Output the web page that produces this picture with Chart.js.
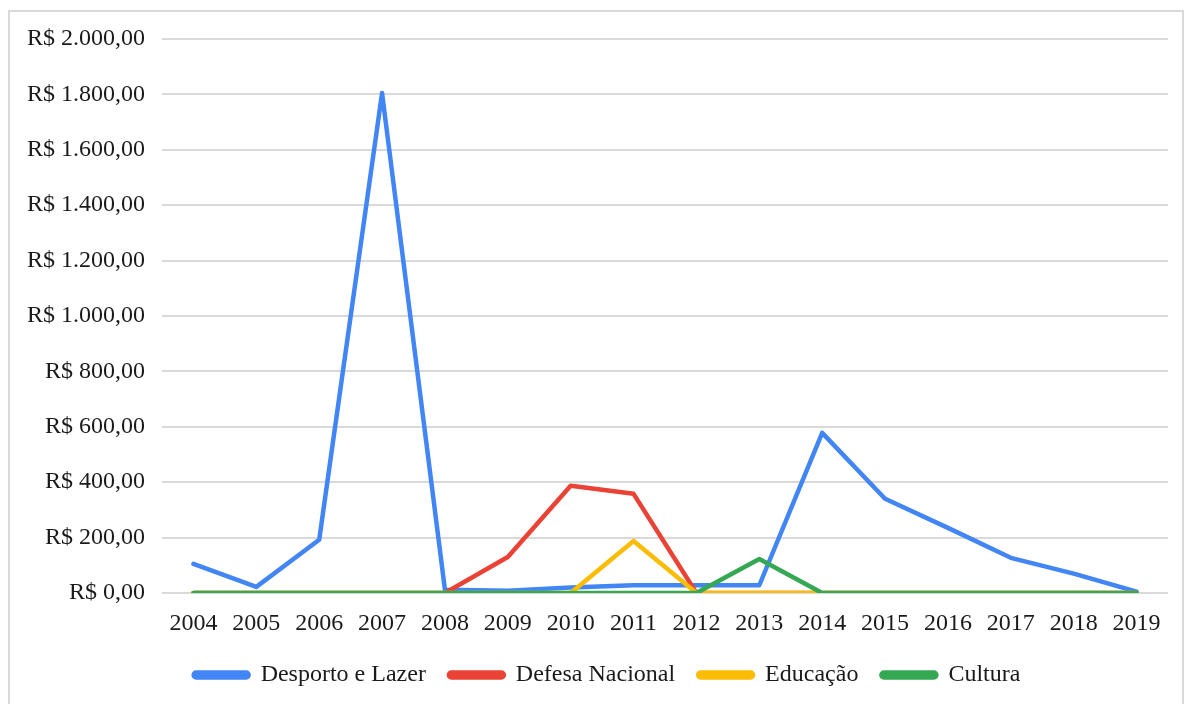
<!DOCTYPE html>
<html>
<head>
<meta charset="utf-8">
<script src="https://cdn.jsdelivr.net/npm/chart.js@4/dist/chart.umd.min.js"></script>
<style>
  html, body { margin: 0; padding: 0; background: #ffffff; }
  #wrap { position: relative; width: 1192px; height: 704px; }
</style>
</head>
<body>
<div id="wrap"><canvas id="chart" width="1192" height="704"></canvas></div>
<script>
// Annual spending by function, 2004–2019 (R$)
const years = ['2004','2005','2006','2007','2008','2009','2010','2011','2012','2013','2014','2015','2016','2017','2018','2019'];
const desportoLazer  = [105, 22, 192, 1805, 12, 8, 20, 28, 28, 28, 578, 340, 235, 127, 70, 5];
const defesaNacional = [0, 0, 0, 0, 0, 130, 387, 358, 0, 0, 0, 0, 0, 0, 0, 0];
const educacao       = [0, 0, 0, 0, 0, 0, 0, 188, 0, 0, 0, 0, 0, 0, 0, 0];
const cultura        = [0, 0, 0, 0, 0, 0, 0, 0, 0, 123, 0, 0, 0, 0, 0, 0];
const yTicks = [0, 200, 400, 600, 800, 1000, 1200, 1400, 1600, 1800, 2000];

function brl(v) {
  const fixed = Math.abs(v).toFixed(2).split('.');
  const intPart = fixed[0].replace(/\B(?=(\d{3})+(?!\d))/g, '.');
  return 'R$ ' + (v < 0 ? '-' : '') + intPart + ',' + fixed[1];
}

const FONT = "'Liberation Serif', 'Times New Roman', serif";
const FONT_SIZE = 24;

// Thin grey frame around the whole figure
const framePlugin = {
  id: 'frame',
  beforeDraw(chart) {
    const ctx = chart.ctx;
    ctx.save();
    ctx.strokeStyle = '#d9d9d9';
    ctx.lineWidth = 2;
    ctx.strokeRect(9, 11, 1174, 700);
    ctx.restore();
  }
};

// Nudge the legend row a little to the right of the canvas centre
const legendShift = {
  id: 'legendShift',
  afterLayout(chart) {
    if (chart.legend) {
      chart.legend.left += 23;
      chart.legend.right += 23;
    }
  }
};

// later series are painted over earlier ones
function series(label, data, color, order) {
  return {
    label: label,
    data: data,
    order: order,
    borderColor: color,
    backgroundColor: color,
    borderWidth: 4.5,
    pointRadius: 0,
    pointHoverRadius: 0,
    tension: 0,
    fill: false,
    borderJoinStyle: 'round',
    borderCapStyle: 'round'
  };
}

new Chart(document.getElementById('chart'), {
  type: 'line',
  data: {
    labels: years,
    datasets: [
      series('Desporto e Lazer', desportoLazer, '#4285F4', 4),
      series('Defesa Nacional', defesaNacional, '#EA4335', 3),
      series('Educação', educacao, '#FBBC04', 2),
      series('Cultura', cultura, '#34A853', 1)
    ]
  },
  options: {
    responsive: false,
    animation: false,
    layout: { padding: { left: 0, right: 24, top: 39, bottom: 7 } },
    plugins: {
      tooltip: { enabled: false },
      legend: {
        position: 'bottom',
        labels: {
          font: { family: FONT, size: FONT_SIZE },
          color: '#1a1a1a',
          boxWidth: 55,
          boxHeight: 5,
          padding: 23,
          useBorderRadius: true,
          borderRadius: 2.5,
          sort: (a, b) => a.datasetIndex - b.datasetIndex
        }
      }
    },
    scales: {
      x: {
        type: 'category',
        offset: true,
        grid: { display: false, drawTicks: false },
        border: { display: false },
        ticks: {
          font: { family: FONT, size: FONT_SIZE },
          color: '#1a1a1a',
          padding: 16,
          maxRotation: 0,
          autoSkip: false
        },
        afterFit(scale) { scale.height = 47; }
      },
      y: {
        min: 0,
        max: 2000,
        afterBuildTicks(scale) { scale.ticks = yTicks.map(v => ({ value: v })); },
        grid: { color: '#d9d9d9', lineWidth: 2, drawTicks: false },
        border: { display: false },
        ticks: {
          font: { family: FONT, size: FONT_SIZE },
          color: '#1a1a1a',
          padding: 17,
          callback: (v) => brl(v)
        },
        afterFit(scale) { scale.width = 162; }
      }
    }
  },
  plugins: [framePlugin, legendShift]
});
</script>
</body>
</html>
